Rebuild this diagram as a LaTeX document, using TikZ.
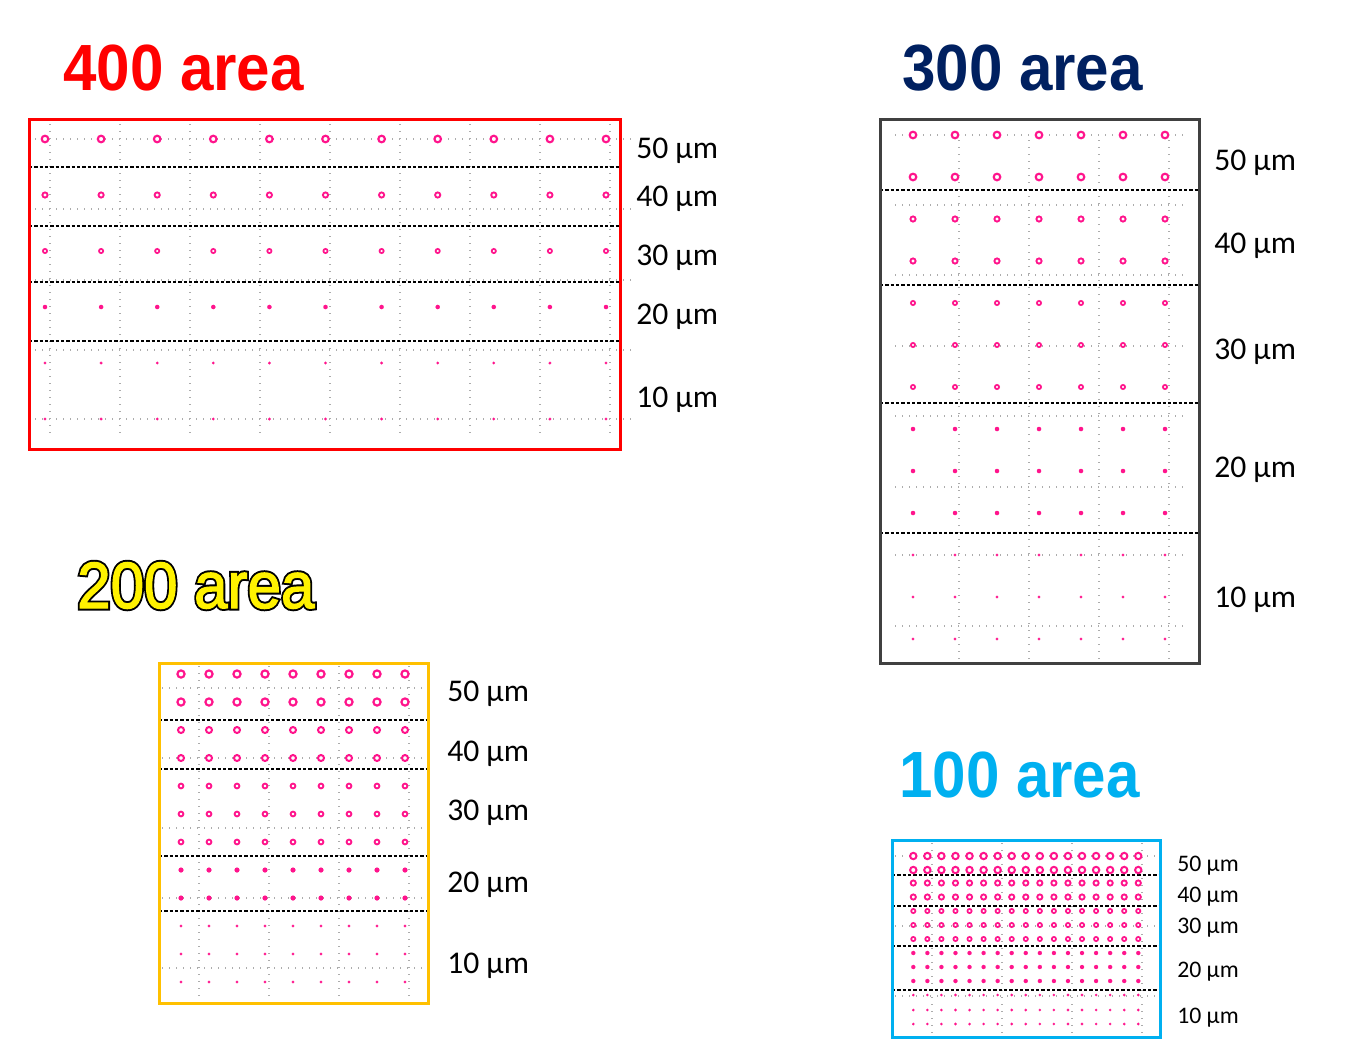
\documentclass[tikz,border=0pt]{standalone}
\usepackage{fontspec}
\setmainfont{Carlito}
\newfontfamily\titlefont{Liberation Sans}
\newfontfamily\outlinefont{Liberation Sans}[FakeBold=8]
\newfontfamily\fillfont{Liberation Sans}[FakeBold=2]
\usetikzlibrary{calc}
\definecolor{spot}{RGB}{255,20,140}
\definecolor{navy}{RGB}{0,32,96}
\definecolor{sky}{RGB}{0,176,240}
\definecolor{amber}{RGB}{255,192,0}
\definecolor{slate}{RGB}{64,64,64}
\tikzset{
  every node/.style={align=left, inner sep=0pt}
}

\begin{document}
\begin{tikzpicture}[x=0.75pt, y=-0.75pt]
\tikzstyle{title}=[anchor=base west, font=\titlefont\bfseries\fontsize{49}{49}\selectfont,
  xscale=0.92, transform shape]
\tikzstyle{size}=[anchor=base west, font=\fontsize{23.7}{24}\selectfont]
\tikzstyle{small size}=[anchor=base west, font=\fontsize{17.8}{18}\selectfont]
\tikzstyle{frame}=[line width=2.25pt]
\tikzstyle{cut}=[draw=black, line width=0.8pt, dash pattern=on 2.6pt off 1.4pt]
\tikzstyle{gridln}=[draw=gray!65, line width=1.1pt, dash pattern=on 1.1pt off 4.15pt]
\tikzstyle{ring}=[draw=spot]

\useasboundingbox (0,0) rectangle (1364,1047);

% 400 area
\node[title, text=red](t400) at (63,90){400 area};
\foreach \x in {50,120,...,610} \draw[gridln] (\x,124) -- (\x,436);
\foreach \y in {139,209,280,350,419} \draw[gridln] (35,\y) -- (632,\y);
\foreach \y in {167,226,282,341} \draw[cut] (29,\y) -- (620,\y);
\foreach \y/\r/\w/\f in {139/3.3/1.6/white, 195/2.6/1.4/white, 251/2.1/1.3/white,
  307/2.2/0.01/spot, 363/1.4/0.01/spot, 419/1.4/0.01/spot}
  \foreach \k in {0,...,10}
    \draw[ring, line width=\w pt, fill=\f] ({45+56.1*\k},\y) circle (\r);
\draw[frame, red] (29,119) rectangle (620,449);
\node[size](l400a) at (636,158){50 µm};
\node[size](l400b) at (636,206){40 µm};
\node[size](l400c) at (636,265){30 µm};
\node[size](l400d) at (636,324){20 µm};
\node[size](l400e) at (636,407){10 µm};

% 300 area
\node[title, text=navy](t300) at (902,90){300 area};
\foreach \x in {959,1029,1099,1169} \draw[gridln] (\x,140) -- (\x,662);
\foreach \y in {135,205,275,346,416,487,555,626} \draw[gridln] (895,\y) -- (1183,\y);
\foreach \y in {190,285,403,533} \draw[cut] (880,\y) -- (1199,\y);
\foreach \y/\r/\w/\f in {135/3.3/1.6/white, 177/3.3/1.6/white,
  219/2.6/1.4/white, 261/2.6/1.4/white,
  303/2.1/1.3/white, 345/2.1/1.3/white, 387/2.1/1.3/white,
  429/2.2/0.01/spot, 471/2.2/0.01/spot, 513/2.2/0.01/spot,
  555/1.4/0.01/spot, 597/1.4/0.01/spot, 639/1.4/0.01/spot}
  \foreach \k in {0,...,6}
    \draw[ring, line width=\w pt, fill=\f] ({913+42*\k},\y) circle (\r);
\draw[frame, slate] (880,119) rectangle (1199,663);
\node[size](l300a) at (1214,170){50 µm};
\node[size](l300b) at (1214,253){40 µm};
\node[size](l300c) at (1214,359){30 µm};
\node[size](l300d) at (1214,477){20 µm};
\node[size](l300e) at (1214,607){10 µm};

% 200 area
\node[title, font=\outlinefont\fontsize{49}{49}\selectfont, text=black](t200b) at (77,608){200 area};
\node[title, font=\fillfont\fontsize{49}{49}\selectfont, text=yellow](t200) at (77,608){200 area};
\foreach \x in {199,269,339,409} \draw[gridln] (\x,666) -- (\x,1002);
\foreach \y in {688,758,828,898,968} \draw[gridln] (162,\y) -- (430,\y);
\foreach \y in {720,769,856,911} \draw[cut] (159,\y) -- (430,\y);
\foreach \y/\r/\w/\f in {674/3.6/1.6/white, 702/3.6/1.6/white,
  730/3.0/1.5/white, 758/3.0/1.5/white,
  786/2.4/1.4/white, 814/2.4/1.4/white, 842/2.4/1.4/white,
  870/2.5/0.01/spot, 898/2.5/0.01/spot,
  926/1.4/0.01/spot, 954/1.4/0.01/spot, 982/1.4/0.01/spot}
  \foreach \k in {0,...,8}
    \draw[ring, line width=\w pt, fill=\f] ({181+28*\k},\y) circle (\r);
\draw[frame, amber] (159,663) rectangle (428,1003);
\node[size](l200a) at (447,701){50 µm};
\node[size](l200b) at (447,761){40 µm};
\node[size](l200c) at (447,820){30 µm};
\node[size](l200d) at (447,892){20 µm};
\node[size](l200e) at (447,973){10 µm};

% 100 area
\node[title, text=sky](t100) at (899,797){100 area};
\foreach \x in {932,1002,1072,1142} \draw[gridln] (\x,843) -- (\x,1036);
\foreach \y in {856,926,996} \draw[gridln] (895,\y) -- (1158,\y);
\foreach \y in {875,906,946,990} \draw[cut] (892,\y) -- (1163,\y);
\foreach \y/\r/\w/\f in {856/3.2/1.5/white, 870/3.2/1.5/white,
  883/2.6/1.4/white, 897/2.6/1.4/white,
  911/2.1/1.3/white, 925/2.1/1.3/white, 939/2.1/1.3/white,
  953/2.1/0.01/spot, 967/2.1/0.01/spot, 981/2.1/0.01/spot,
  995/1.3/0.01/spot, 1010/1.3/0.01/spot, 1024/1.3/0.01/spot}
  \foreach \k in {0,...,16}
    \draw[ring, line width=\w pt, fill=\f] ({913.3+14.06*\k},\y) circle (\r);
\draw[frame, sky] (892,840) rectangle (1160,1037);
\node[small size](l100a) at (1177,871){50 µm};
\node[small size](l100b) at (1177,902){40 µm};
\node[small size](l100c) at (1177,933){30 µm};
\node[small size](l100d) at (1177,977){20 µm};
\node[small size](l100e) at (1177,1023){10 µm};

\end{tikzpicture}
\end{document}
